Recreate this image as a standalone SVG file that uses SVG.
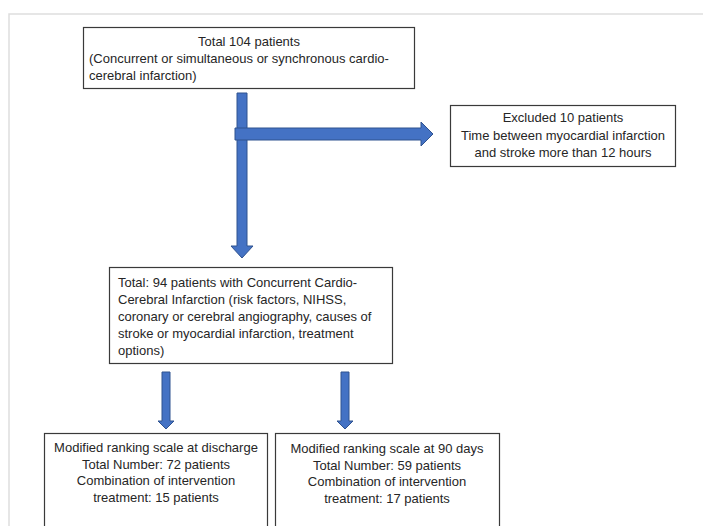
<svg xmlns="http://www.w3.org/2000/svg" width="703" height="526" viewBox="0 0 703 526">
<style>
.frame{fill:none;stroke:#dedede;stroke-width:1.5}
.box{fill:#ffffff;stroke:#3a3a3a;stroke-width:1.2}
.arr{fill:#4472c4;stroke:#2f528f;stroke-width:1}
text{font-family:"Liberation Sans",Arial,sans-serif;font-size:13px;fill:#262626}
.c{text-anchor:middle}
</style>
<rect width="703" height="526" fill="#ffffff"/>
<path class="frame" d="M9,526 V14 H703"/>
<g id="connectors">
  <path class="arr" d="M237,93 H247 V246 H253 L242,258 L231,246 H237 Z"/>
  <path class="arr" d="M235,128 H421 V122 L433,134 L421,146 V140 H235 Z"/>
  <path class="arr" d="M162,372 H170 V421 H174 L166,429 L158,421 H162 Z"/>
  <path class="arr" d="M341,372 H349 V421 H353 L345,429 L337,421 H341 Z"/>
</g>
<g id="node-total104">
  <rect class="box" x="83.5" y="27.5" width="331" height="61"/>
  <text class="c" x="249" y="46">Total 104 patients</text>
  <text x="89" y="63">(Concurrent or simultaneous or synchronous cardio-</text>
  <text x="89" y="80">cerebral infarction)</text>
</g>
<g id="node-excluded">
  <rect class="box" x="450.5" y="105.5" width="225" height="61"/>
  <text class="c" x="563" y="122">Excluded 10 patients</text>
  <text class="c" x="563" y="139.5">Time between myocardial infarction</text>
  <text class="c" x="563" y="157">and stroke more than 12 hours</text>
</g>
<g id="node-total94">
  <rect class="box" x="109.5" y="267.5" width="283" height="96"/>
  <text x="118" y="287">Total: 94 patients with Concurrent Cardio-</text>
  <text x="118" y="304">Cerebral Infarction (risk factors, NIHSS,</text>
  <text x="118" y="321">coronary or cerebral angiography, causes of</text>
  <text x="118" y="338">stroke or myocardial infarction, treatment</text>
  <text x="118" y="354.5">options)</text>
</g>
<g id="node-discharge">
  <rect class="box" x="44.5" y="433.5" width="223" height="100"/>
  <text class="c" x="156" y="452">Modified ranking scale at discharge</text>
  <text class="c" x="156" y="468.5">Total Number: 72 patients</text>
  <text class="c" x="156" y="485">Combination of intervention</text>
  <text class="c" x="156" y="501.5">treatment: 15 patients</text>
</g>
<g id="node-90days">
  <rect class="box" x="275.5" y="433.5" width="224" height="100"/>
  <text class="c" x="387" y="453">Modified ranking scale at 90 days</text>
  <text class="c" x="387" y="469.5">Total Number: 59 patients</text>
  <text class="c" x="387" y="486">Combination of intervention</text>
  <text class="c" x="387" y="502.5">treatment: 17 patients</text>
</g>
</svg>
